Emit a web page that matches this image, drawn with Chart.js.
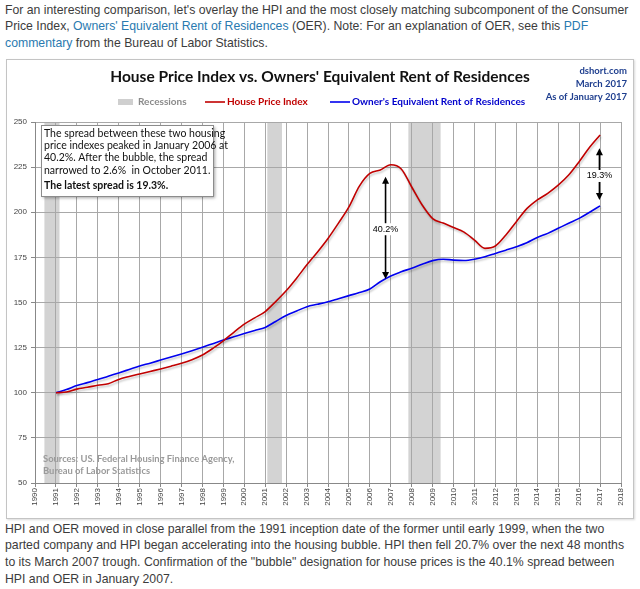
<!DOCTYPE html>
<html>
<head>
<meta charset="utf-8">
<script src="https://cdn.jsdelivr.net/npm/chart.js@4"></script>
<style>
  html, body { margin: 0; padding: 0; background: #fff; }
  body { width: 640px; height: 589px; position: relative; overflow: hidden;
         font-family: "Liberation Sans", Arial, sans-serif; color: #3c3c3c; }
  .para { position: absolute; left: 5px; font-size: 12.25px; line-height: 16.5px; white-space: nowrap; }
  .para a { color: #2a7ab0; text-decoration: none; }
  #top { top: 1.5px; }
  #bottom { top: 520.5px; line-height: 16.7px; }
  #frame { position: absolute; left: 6px; top: 59px; width: 626px; height: 458px;
           border: 1px solid #c4c4c4; box-shadow: 1px 1px 2px rgba(0,0,0,0.15); background: #fff; }
  #frame canvas { display: block; }
</style>
</head>
<body>
<div class="para" id="top">For an interesting comparison, let's overlay the HPI and the most closely matching subcomponent of the Consumer<br>Price Index, <a href="#">Owners' Equivalent Rent of Residences</a> (OER). Note: For an explanation of OER, see this <a href="#">PDF</a><br><a href="#">commentary</a> from the Bureau of Labor Statistics.</div>
<div id="frame"><canvas id="chart" width="626" height="458"></canvas></div>
<div class="para" id="bottom">HPI and OER moved in close parallel from the 1991 inception date of the former until early 1999, when the two<br>parted company and HPI began accelerating into the housing bubble. HPI then fell 20.7% over the next 48 months<br>to its March 2007 trough. Confirmation of the "bubble" designation for house prices is the 40.1% spread between<br>HPI and OER in January 2007.</div>
<script>
// half-year observations, 1991 = 100
const periods = [
  1991.0, 1991.5, 1992.0, 1992.5, 1993.0, 1993.5, 1994.0, 1994.5, 1995.0, 1995.5,
  1996.0, 1996.5, 1997.0, 1997.5, 1998.0, 1998.5, 1999.0, 1999.5, 2000.0, 2000.5,
  2001.0, 2001.5, 2002.0, 2002.5, 2003.0, 2003.5, 2004.0, 2004.5, 2005.0, 2005.5,
  2006.0, 2006.5, 2007.0, 2007.5, 2008.0, 2008.5, 2009.0, 2009.5, 2010.0, 2010.5,
  2011.0, 2011.5, 2012.0, 2012.5, 2013.0, 2013.5, 2014.0, 2014.5, 2015.0, 2015.5,
  2016.0, 2016.5, 2017.0
];
const hpiValues = [
  100.0, 100.4, 102.0, 103.0, 104.2, 105.0, 107.4, 109.0, 110.4, 111.8,
  113.2, 114.7, 116.3, 118.3, 120.9, 124.6, 128.8, 133.5, 138.0, 141.5,
  145.0, 150.5, 156.5, 163.5, 171.0, 178.0, 185.5, 194.0, 203.0, 214.5,
  221.5, 223.4, 226.3, 224.0, 214.0, 204.0, 196.5, 194.0, 191.6, 189.0,
  184.6, 180.0, 181.3, 187.4, 194.8, 202.0, 206.8, 210.5, 215.0, 220.6,
  228.0, 236.0, 242.8
];
const oerValues = [
  100.0, 101.8, 104.0, 105.6, 107.3, 109.2, 111.0, 112.9, 114.8, 116.4,
  118.1, 119.8, 121.5, 123.3, 125.2, 127.2, 129.2, 131.0, 132.8, 134.5,
  136.2, 139.5, 142.8, 145.3, 147.7, 149.0, 150.4, 152.1, 153.8, 155.5,
  157.5, 161.5, 164.7, 167.0, 169.0, 171.2, 173.2, 174.0, 173.5, 173.3,
  174.0, 175.4, 177.2, 179.0, 180.9, 183.1, 186.0, 188.3, 191.1, 193.9,
  196.6, 200.0, 203.5
];
// recessions [start, end] in decimal years
const recessions = [[1990.45, 1991.17], [2001.1, 2001.8], [2007.84, 2009.38]];
// spread arrows: [year, top value, bottom value, label value, label]
const spreads = [
  [2006.75, 219.7, 163.0, 190.6, '40.2%'],
  [2016.97, 235.4, 206.8, 220.1, '19.3%']
];
const noteLines = [
  'The spread between these two housing',
  'price indexes peaked in January 2006 at',
  '40.2%. After the bubble, the spread',
  'narrowed to 2.6%  in October 2011.'
];
const noteBold = 'The latest spread is 19.3%.';

const FONT = '"Liberation Sans", Arial, sans-serif';
const CAL = 'Lato, "Open Sans", sans-serif';

const toPoints = (vals) => vals.map((v, i) => ({ x: periods[i], y: v }));

const recessionBands = {
  id: 'recessionBands',
  beforeDraw(chart) {
    const { ctx, chartArea: a, scales: { x } } = chart;
    ctx.save();
    ctx.fillStyle = '#d3d3d3';
    recessions.forEach(([s, e]) => {
      const x0 = x.getPixelForValue(s), x1 = x.getPixelForValue(e);
      ctx.fillRect(x0, a.top, x1 - x0, a.bottom - a.top);
    });
    ctx.restore();
  }
};

const lineShadow = {
  id: 'lineShadow',
  beforeDatasetDraw(chart) {
    const ctx = chart.ctx;
    ctx.save();
    ctx.shadowColor = 'rgba(0,0,0,0.22)';
    ctx.shadowBlur = 2;
    ctx.shadowOffsetX = 1;
    ctx.shadowOffsetY = 2;
  },
  afterDatasetDraw(chart) {
    chart.ctx.restore();
  }
};

function arrowHead(ctx, x, y, dir) {
  ctx.beginPath();
  ctx.moveTo(x, y);
  ctx.lineTo(x - 3.5, y - dir * 7);
  ctx.lineTo(x + 3.5, y - dir * 7);
  ctx.closePath();
  ctx.fill();
}

const decorations = {
  id: 'decorations',
  afterDraw(chart) {
    const { ctx, scales: { x, y } } = chart;
    ctx.save();

    // spread arrows
    ctx.strokeStyle = '#000';
    ctx.fillStyle = '#000';
    ctx.lineWidth = 1.6;
    spreads.forEach(([yr, top, bot, lab, text]) => {
      const px = x.getPixelForValue(yr);
      const y0 = y.getPixelForValue(top), y1 = y.getPixelForValue(bot);
      ctx.beginPath();
      ctx.moveTo(px, y0 + 4);
      ctx.lineTo(px, y1 - 4);
      ctx.stroke();
      arrowHead(ctx, px, y0, -1);
      arrowHead(ctx, px, y1, 1);
      const ly = y.getPixelForValue(lab);
      ctx.font = '9px ' + FONT;
      const w = ctx.measureText(text).width;
      ctx.fillStyle = '#fff';
      ctx.fillRect(px - w / 2 - 2, ly - 6, w + 4, 12);
      ctx.fillStyle = '#000';
      ctx.textAlign = 'center';
      ctx.textBaseline = 'middle';
      ctx.fillText(text, px, ly);
    });

    // title
    ctx.textBaseline = 'middle';
    ctx.textAlign = 'center';
    ctx.fillStyle = '#111';
    ctx.font = 'bold 15.5px ' + CAL;
    ctx.fillText("House Price Index vs. Owners' Equivalent Rent of Residences", 313, 17);

    // top right stamp
    ctx.textAlign = 'right';
    ctx.fillStyle = '#1f3f8f';
    ctx.font = 'bold 9.5px ' + CAL;
    ctx.fillText('dshort.com', 620, 11);
    ctx.fillText('March 2017', 620, 24);
    ctx.fillText('As of January 2017', 620, 37);

    // legend
    ctx.textAlign = 'left';
    ctx.font = 'bold 10px ' + CAL;
    ctx.fillStyle = '#cfcfcf';
    ctx.fillRect(111, 39, 15, 6);
    ctx.fillStyle = '#8a8a8a';
    ctx.fillText('Recessions', 131, 42);
    ctx.strokeStyle = '#c00000';
    ctx.lineWidth = 1.6;
    ctx.beginPath(); ctx.moveTo(198, 42); ctx.lineTo(218, 42); ctx.stroke();
    ctx.fillStyle = '#c00000';
    ctx.fillText('House Price Index', 220, 42);
    ctx.strokeStyle = '#0000ee';
    ctx.beginPath(); ctx.moveTo(323, 42); ctx.lineTo(343, 42); ctx.stroke();
    ctx.fillStyle = '#0000cc';
    ctx.fillText("Owner's Equivalent Rent of Residences", 345, 42);

    // note box
    const bx = 34, by = 65, bw = 172, bh = 71;
    ctx.save();
    ctx.shadowColor = 'rgba(0,0,0,0.35)';
    ctx.shadowBlur = 3;
    ctx.shadowOffsetX = 2;
    ctx.shadowOffsetY = 2;
    ctx.fillStyle = '#fff';
    ctx.fillRect(bx, by, bw, bh);
    ctx.restore();
    ctx.strokeStyle = '#8c8c8c';
    ctx.lineWidth = 1;
    ctx.strokeRect(bx + 0.5, by + 0.5, bw, bh);
    ctx.fillStyle = '#111';
    ctx.font = '10.5px ' + CAL;
    noteLines.forEach((t, i) => ctx.fillText(t, bx + 3, by + 8.5 + i * 12.3));
    ctx.font = 'bold 10.5px ' + CAL;
    ctx.fillText(noteBold, bx + 3, by + 61);

    // sources
    ctx.fillStyle = '#9a9a9a';
    ctx.font = 'bold 9.4px ' + CAL;
    ctx.fillText('Sources: US. Federal Housing Finance Agency,', 36, 399);
    ctx.fillText('Bureau of Labor Statistics', 36, 411);

    ctx.restore();
  }
};

new Chart(document.getElementById('chart'), {
  type: 'line',
  data: {
    datasets: [{
      label: 'House Price Index',
      data: toPoints(hpiValues),
      borderColor: '#c00000',
      borderWidth: 1.6,
      pointRadius: 0,
      cubicInterpolationMode: 'monotone',
      fill: false
    }, {
      label: "Owner's Equivalent Rent of Residences",
      data: toPoints(oerValues),
      borderColor: '#0000ee',
      borderWidth: 1.6,
      pointRadius: 0,
      cubicInterpolationMode: 'monotone',
      fill: false
    }]
  },
  options: {
    responsive: false,
    animation: false,
    events: [],
    layout: { padding: { top: 62, right: 12, bottom: 0, left: 0 } },
    plugins: { legend: { display: false }, title: { display: false }, tooltip: { enabled: false } },
    scales: {
      x: {
        type: 'linear',
        min: 1990,
        max: 2018,
        afterFit: (s) => { s.height = 35; },
        grid: { color: '#a8a8a8', lineWidth: 1, tickLength: 4, tickColor: '#888' },
        border: { color: '#888' },
        ticks: {
          stepSize: 1,
          autoSkip: false,
          minRotation: 90,
          maxRotation: 90,
          padding: 1,
          color: '#444',
          font: { family: FONT, size: 8 },
          callback: (v) => String(v)
        }
      },
      y: {
        min: 50,
        max: 250,
        afterFit: (s) => { s.width = 28; },
        grid: { color: '#a8a8a8', lineWidth: 1, tickLength: 4, tickColor: '#888' },
        border: { color: '#888' },
        ticks: {
          stepSize: 25,
          padding: 4,
          color: '#444',
          font: { family: FONT, size: 8 }
        }
      }
    }
  },
  plugins: [recessionBands, lineShadow, decorations]
});
</script>
</body>
</html>
